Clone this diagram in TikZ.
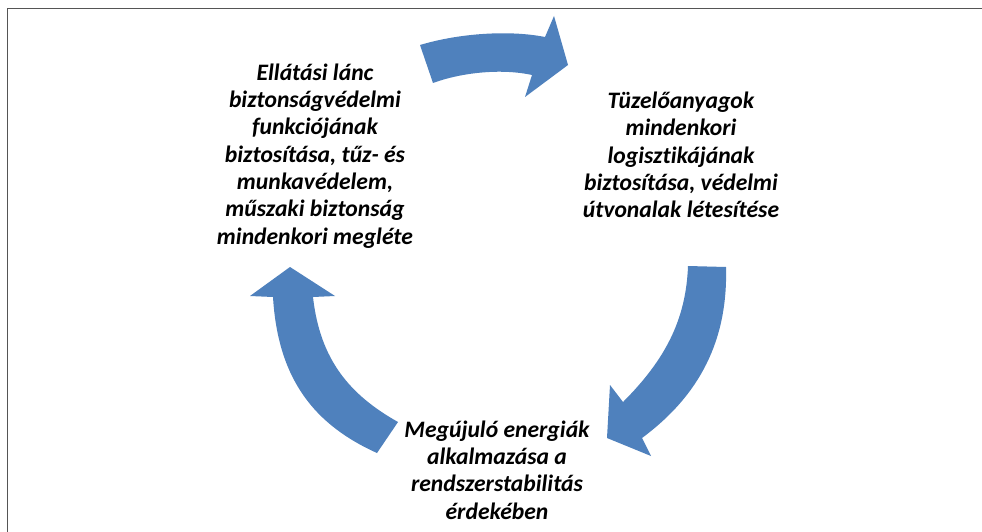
\documentclass[tikz,border=0pt]{standalone}
\usepackage{fontspec}
\setmainfont{Carlito}[Ligatures={NoCommon}]
\definecolor{arrowblue}{HTML}{4F81BD}
\definecolor{framegray}{HTML}{555555}
\begin{document}
\begin{tikzpicture}[x=1pt,y=-1pt,
  lbl/.style={align=center,inner sep=0pt,font=\bfseries\itshape\fontsize{23.6}{27.3}\selectfont},
  cyclearrow/.style={fill=arrowblue,draw=none},
  frameline/.style={draw=framegray,line width=1.3pt}]
\useasboundingbox (0,0) rectangle (982,532);
\fill[white] (0,0) rectangle (982,532);
% frame (top and left only)
\coordinate (fr1) at (982,8.5);
\coordinate (fr2) at (7.5,8.5);
\coordinate (fr3) at (7.5,532);
\draw[frameline] (fr1) -- (fr2) -- (fr3);
% text nodes
\node[lbl] (left) at (315,156) {Ellátási lánc\\biztonságvédelmi\\funkciójának\\biztosítása, tűz- és\\munkavédelem,\\műszaki biztonság\\mindenkori megléte};
\node[lbl] (right) at (681,155) {Tüzelőanyagok\\mindenkori\\logisztikájának\\biztosítása, védelmi\\útvonalak létesítése};
\node[lbl] (bottom) at (497,470) {Megújuló energiák\\alkalmazása a\\rendszerstabilitás\\érdekében};
% top arrow
\fill[cyclearrow] (420,45) .. controls (460,33) and (510,30) .. (545,37)
  -- (554,16) -- (568,65) -- (525,97) -- (532,75)
  .. controls (500,68) and (460,73) .. (433,83) -- cycle;
% right arrow
\fill[cyclearrow] (688,266) -- (726,267)
  .. controls (728,340) and (700,395) .. (642,438)
  -- (651,456) -- (607,438) -- (610,385) -- (623,402)
  .. controls (665,360) and (686,320) .. (688,266) -- cycle;
% left arrow
\fill[cyclearrow] (290,267) -- (335,296) -- (313,297)
  .. controls (320,360) and (350,395) .. (398,422)
  -- (377,453)
  .. controls (315,425) and (278,380) .. (273,297)
  -- (250,296) -- cycle;
\end{tikzpicture}
\end{document}
